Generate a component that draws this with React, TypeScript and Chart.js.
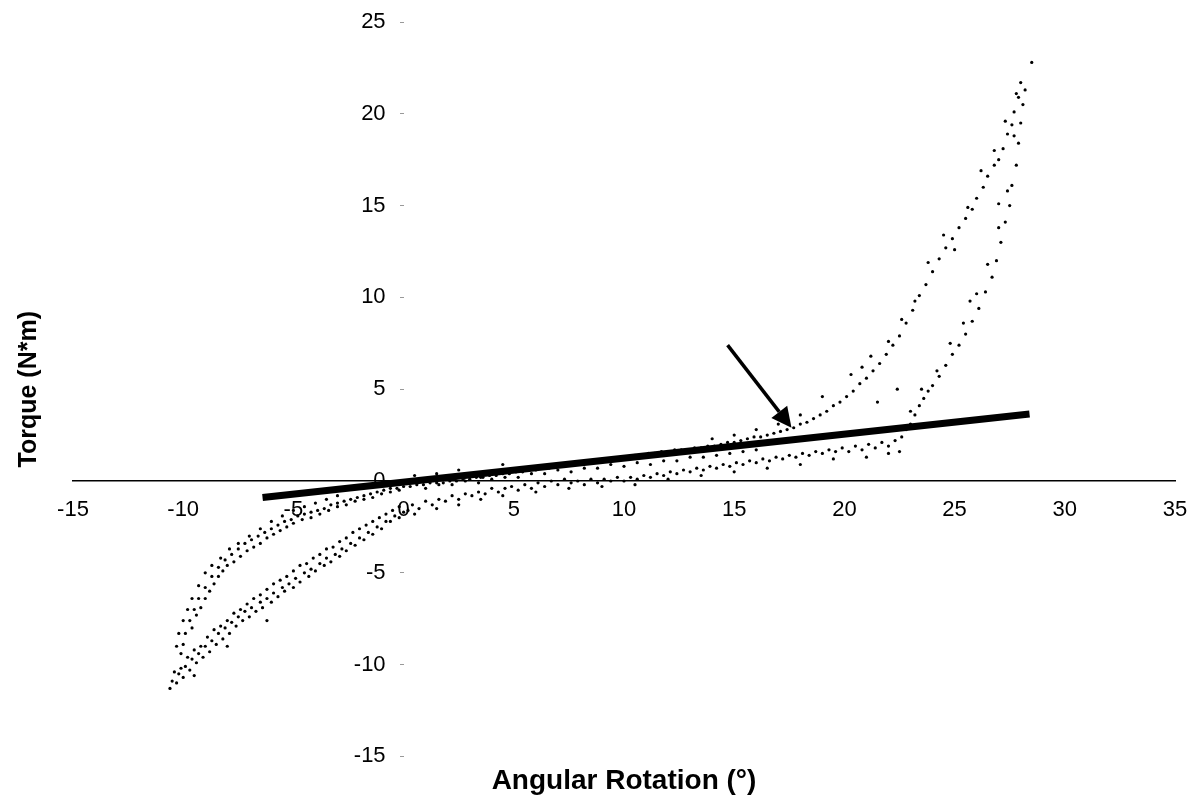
import React, { useEffect, useRef } from "react";
import { Chart, registerables } from "chart.js";

Chart.register(...registerables);

const FONT = '"Liberation Sans", Arial, Helvetica, sans-serif';

const xTickValues = [-15, -10, -5, 0, 5, 10, 15, 20, 25, 30, 35];
const yTickValues = [-15, -10, -5, 0, 5, 10, 15, 20, 25];

// Loading path (lower branch), [angle °, torque N*m]
const loadingPath: [number, number][] = [
  [-10.6, -11.3], [-10.5, -10.9], [-10.3, -11.0], [-10.2, -10.5], [-10.0, -10.7], [-9.9, -10.1],
  [-9.7, -10.3], [-9.6, -9.7], [-9.4, -9.9], [-9.3, -9.4], [-9.1, -9.6], [-9.0, -9.0],
  [-8.8, -9.3], [-8.7, -8.7], [-8.5, -8.9], [-8.4, -8.3], [-8.2, -8.6], [-8.1, -8.0],
  [-7.9, -8.3], [-7.8, -7.7], [-7.6, -7.9], [-7.5, -7.4], [-7.3, -7.6], [-7.2, -7.1],
  [-7.0, -7.4], [-6.9, -6.9], [-6.7, -7.1], [-6.5, -6.6], [-6.4, -6.9], [-6.2, -6.4],
  [-6.0, -6.6], [-5.9, -6.1], [-5.7, -6.3], [-5.5, -5.8], [-5.4, -6.0], [-5.2, -5.6],
  [-5.0, -5.8], [-4.9, -5.3], [-4.7, -5.5], [-4.5, -5.0], [-4.3, -5.2], [-4.2, -4.8],
  [-4.0, -4.9], [-3.8, -4.5], [-3.6, -4.6], [-3.5, -4.2], [-3.3, -4.4], [-3.1, -4.0],
  [-2.9, -4.1], [-2.8, -3.7], [-2.6, -3.8], [-2.4, -3.4], [-2.2, -3.5], [-2.0, -3.1],
  [-1.8, -3.2], [-1.6, -2.8], [-1.4, -2.9], [-1.2, -2.5], [-1.0, -2.6], [-0.8, -2.2],
  [-0.6, -2.2], [-0.4, -1.9], [-0.2, -2.0], [0.0, -1.7], [0.2, -1.6], [0.4, -1.3],
  [0.7, -1.5], [1.0, -1.1], [1.3, -1.3], [1.6, -1.0], [1.9, -1.1], [2.2, -0.8],
  [2.5, -1.0], [2.8, -0.7], [3.1, -0.8], [3.4, -0.6], [3.7, -0.7], [4.0, -0.4],
  [4.3, -0.6], [4.6, -0.4], [4.9, -0.3], [5.2, -0.5], [5.5, -0.2], [5.8, -0.4],
  [6.1, -0.1], [6.4, -0.3], [6.7, 0.0], [7.0, -0.2], [7.3, 0.1], [7.6, -0.1],
  [7.9, 0.0], [8.2, -0.2], [8.5, 0.1], [8.8, -0.1], [9.1, 0.1], [9.4, 0.0],
  [9.7, 0.2], [10.0, 0.0], [10.3, 0.2], [10.6, 0.1], [10.9, 0.3], [11.2, 0.2],
  [11.5, 0.4], [11.8, 0.3], [12.1, 0.5], [12.4, 0.4], [12.7, 0.6], [13.0, 0.5],
  [13.3, 0.7], [13.6, 0.6], [13.9, 0.8], [14.2, 0.7], [14.5, 0.9], [14.8, 0.8],
  [15.1, 1.0], [15.4, 0.9], [15.7, 1.1], [16.0, 1.0], [16.3, 1.2], [16.6, 1.1],
  [16.9, 1.3], [17.2, 1.2], [17.5, 1.4], [17.8, 1.3], [18.1, 1.5], [18.4, 1.4],
  [18.7, 1.6], [19.0, 1.5], [19.3, 1.7], [19.6, 1.6], [19.9, 1.8], [20.2, 1.6],
  [20.5, 1.9], [20.8, 1.7], [21.1, 2.0], [21.4, 1.8], [21.7, 2.1], [22.0, 1.9],
  [22.3, 2.2], [22.6, 2.4], [22.8, 2.8], [23.0, 3.1], [23.2, 3.6], [23.4, 4.1],
  [23.6, 4.5], [23.8, 4.9], [24.0, 5.2], [24.3, 5.7], [24.6, 6.3], [24.9, 6.9],
  [25.2, 7.4], [25.5, 8.0], [25.8, 8.7], [26.1, 9.4], [26.4, 10.3], [26.7, 11.1],
  [26.9, 12.0], [27.1, 13.0], [27.3, 14.1], [27.5, 15.0], [27.6, 16.1], [27.8, 17.2],
  [27.9, 18.4], [28.0, 19.5], [28.1, 20.5], [28.2, 21.3],
];

// Unloading path (upper branch)
const unloadingPath: [number, number][] = [
  [28.0, 21.7], [27.9, 20.9], [27.7, 20.1], [27.6, 19.4], [27.4, 18.9], [27.2, 18.1],
  [27.0, 17.5], [26.8, 17.2], [26.5, 16.6], [26.3, 16.0], [26.0, 15.4], [25.8, 14.8],
  [25.5, 14.3], [25.2, 13.8], [24.9, 13.2], [24.6, 12.7], [24.3, 12.1], [24.0, 11.4],
  [23.7, 10.7], [23.4, 10.1], [23.1, 9.3], [22.8, 8.6], [22.5, 7.9], [22.2, 7.4],
  [21.9, 6.9], [21.6, 6.4], [21.3, 6.0], [21.0, 5.6], [20.7, 5.3], [20.4, 4.9],
  [20.1, 4.6], [19.8, 4.3], [19.5, 4.1], [19.2, 3.8], [18.9, 3.6], [18.6, 3.4],
  [18.3, 3.2], [18.0, 3.1], [17.7, 2.9], [17.4, 2.8], [17.1, 2.7], [16.8, 2.6],
  [16.5, 2.5], [16.2, 2.4], [15.9, 2.4], [15.6, 2.3], [15.3, 2.2], [15.0, 2.1],
  [14.7, 2.1], [14.4, 2.0], [14.1, 1.9], [13.8, 1.9], [13.5, 1.8], [13.2, 1.8],
  [12.9, 1.7], [12.6, 1.7], [12.3, 1.7], [12.0, 1.6], [11.7, 1.6], [11.4, 1.5],
  [11.1, 1.5], [10.8, 1.4], [10.5, 1.4], [10.2, 1.3], [9.9, 1.3], [9.6, 1.2],
  [9.3, 1.2], [9.0, 1.1], [8.7, 1.1], [8.4, 1.0], [8.1, 1.0], [7.8, 0.9],
  [7.5, 0.9], [7.2, 0.8], [6.9, 0.8], [6.6, 0.7], [6.3, 0.7], [6.0, 0.6],
  [5.7, 0.6], [5.4, 0.5], [5.1, 0.5], [4.8, 0.4], [4.5, 0.4], [4.2, 0.3],
  [3.9, 0.3], [3.6, 0.2], [3.3, 0.2], [3.0, 0.1], [2.7, 0.1], [2.4, 0.0],
  [2.1, 0.0], [1.8, -0.1], [1.5, -0.1], [1.2, -0.1], [0.9, -0.2], [0.6, -0.2],
  [0.3, -0.3], [0.0, -0.3], [-0.3, -0.4], [-0.6, -0.4], [-0.9, -0.5], [-1.2, -0.6],
  [-1.5, -0.7], [-1.8, -0.8], [-2.1, -0.9], [-2.4, -1.0], [-2.7, -1.1], [-3.0, -1.2],
  [-3.3, -1.3], [-3.6, -1.5], [-3.9, -1.6], [-4.2, -1.7], [-4.5, -1.8], [-4.8, -1.9],
  [-5.1, -2.1], [-5.4, -2.2], [-5.7, -2.4], [-6.0, -2.6], [-6.3, -2.8], [-6.6, -3.0],
  [-6.9, -3.2], [-7.2, -3.4], [-7.5, -3.7], [-7.8, -4.0], [-8.1, -4.3], [-8.4, -4.7],
  [-8.7, -5.2], [-9.0, -5.8], [-9.3, -6.4], [-9.5, -7.0], [-9.7, -7.6], [-9.9, -8.3],
  [-10.0, -8.9], [-10.1, -9.4],
];

// Second cycle / scattered readings
const secondCycle: [number, number][] = [
  [-9.6, -8.0], [-9.4, -7.3], [-9.2, -6.9], [-9.0, -6.4], [-8.8, -6.0], [-8.6, -5.6],
  [-8.4, -5.2], [-8.2, -4.9], [-8.0, -4.6], [-7.7, -4.4], [-7.4, -4.1], [-7.1, -3.8],
  [-6.8, -3.6], [-6.5, -3.4], [-6.2, -3.1], [-5.9, -2.9], [-5.6, -2.7], [-5.3, -2.5],
  [-5.0, -2.3], [-4.6, -2.1], [-4.2, -2.0], [-3.8, -1.8], [-3.4, -1.6], [-3.0, -1.4],
  [-2.6, -1.3], [-2.2, -1.1], [-1.8, -1.0], [-1.4, -0.9], [-1.0, -0.7], [-0.6, -0.6],
  [-0.2, -0.5], [1.0, -0.4], [1.6, -0.2], [2.2, -0.2], [2.8, 0.0], [3.4, -0.1],
  [4.0, 0.1], [4.6, 0.2], [5.2, 0.2], [5.8, 0.4], [6.4, 0.4], [7.0, 0.6],
  [7.6, 0.5], [8.2, 0.7], [8.8, 0.7], [9.4, 0.9], [10.0, 0.8], [10.6, 1.0],
  [11.2, 0.9], [11.8, 1.1], [12.4, 1.1], [13.0, 1.3], [13.6, 1.3], [14.2, 1.4],
  [14.8, 1.5], [15.4, 1.6], [16.0, 1.7], [21.5, 4.3], [22.4, 5.0], [25.7, 9.8],
  [27.0, 15.1], [28.5, 22.8],
];

// Extra readings that thicken the measured bands
const extraReadings: [number, number][] = [
  [-10.4, -10.4], [-10.1, -10.2], [-9.8, -9.6], [-9.5, -9.2], [-9.2, -9.0], [-8.9, -8.5],
  [-8.6, -8.1], [-8.3, -7.9], [-8.0, -7.6], [-7.7, -7.2], [-7.4, -7.0], [-7.1, -6.7],
  [-6.8, -6.4], [-6.5, -6.2], [-6.2, -5.9], [-5.9, -5.6], [-5.6, -5.4], [-5.3, -5.2],
  [-5.0, -4.9], [-4.7, -4.6], [-4.4, -4.5], [-4.1, -4.2], [-3.8, -4.0], [-3.5, -3.7],
  [-3.2, -3.6], [-2.9, -3.3], [-2.6, -3.1], [-2.3, -2.8], [-2.0, -2.6], [-1.7, -2.4],
  [-1.4, -2.2], [-1.1, -2.0], [-0.8, -1.8], [-0.5, -1.6], [-0.2, -1.4],
  [-8.0, -9.0], [-6.2, -7.6], [-9.5, -10.6],
  [-10.3, -9.0], [-10.2, -8.3], [-10.0, -7.6], [-9.8, -7.0], [-9.6, -6.4], [-9.3, -5.7],
  [-9.0, -5.0], [-8.7, -4.6], [-8.3, -4.2], [-7.9, -3.7], [-7.5, -3.4], [-7.0, -3.0],
  [-6.5, -2.6], [-6.0, -2.2], [-5.5, -1.9], [-5.0, -1.6], [-4.5, -1.4], [-4.0, -1.2],
  [-3.5, -1.0], [-3.0, -0.8],
  [0.5, 0.3], [1.5, 0.4], [2.5, 0.6], [3.5, 0.2], [4.5, 0.9],
  [0.5, -1.8], [1.5, -1.5], [2.5, -1.3], [3.5, -1.0], [4.5, -0.8], [6.0, -0.6],
  [7.5, -0.4], [9.0, -0.3], [10.5, -0.2], [12.0, 0.1], [13.5, 0.3], [15.0, 0.5],
  [16.5, 0.7], [18.0, 0.9], [19.5, 1.2], [21.0, 1.3], [22.0, 1.5], [22.5, 1.6],
  [20.3, 5.8], [20.8, 6.2], [21.2, 6.8], [22.0, 7.6], [22.6, 8.8], [23.2, 9.8],
  [23.8, 11.9], [24.5, 13.4], [25.0, 12.6], [25.6, 14.9], [26.2, 16.9], [26.8, 18.0],
  [27.3, 19.6], [27.8, 21.1], [19.0, 4.6], [18.0, 3.6], [17.0, 3.1], [16.0, 2.8],
  [15.0, 2.5], [14.0, 2.3],
  [23.0, 3.8], [23.5, 5.0], [24.2, 6.0], [24.8, 7.5], [25.4, 8.6], [26.0, 10.2],
  [26.5, 11.8], [27.0, 13.8], [27.4, 15.8], [27.7, 18.8],
];

// Linear fit (thick line) end points
const fitLine: [number, number][] = [
  [-6.4, -0.9],
  [28.4, 3.65],
];

// Arrow annotation: tail and head in data units
const arrowTail: [number, number] = [14.7, 7.4];
const arrowHead: [number, number] = [17.6, 2.9];

const toPoints = (arr: [number, number][]) => arr.map(([x, y]) => ({ x, y }));

const arrowPlugin = {
  id: "arrowPlugin",
  afterDatasetsDraw(chart: any) {
    const { ctx, scales } = chart;
    const xs = scales.x;
    const ys = scales.y;
    const x1 = xs.getPixelForValue(arrowTail[0]);
    const y1 = ys.getPixelForValue(arrowTail[1]);
    const x2 = xs.getPixelForValue(arrowHead[0]);
    const y2 = ys.getPixelForValue(arrowHead[1]);
    const ang = Math.atan2(y2 - y1, x2 - x1);
    const headLen = 20;
    const headHalf = 10;
    const bx = x2 - headLen * Math.cos(ang);
    const by = y2 - headLen * Math.sin(ang);
    ctx.save();
    ctx.strokeStyle = "#000";
    ctx.fillStyle = "#000";
    ctx.lineWidth = 3.5;
    ctx.beginPath();
    ctx.moveTo(x1, y1);
    ctx.lineTo(bx, by);
    ctx.stroke();
    ctx.beginPath();
    ctx.moveTo(x2, y2);
    ctx.lineTo(bx + headHalf * Math.sin(ang), by - headHalf * Math.cos(ang));
    ctx.lineTo(bx - headHalf * Math.sin(ang), by + headHalf * Math.cos(ang));
    ctx.closePath();
    ctx.fill();
    ctx.restore();
  },
};

// Y tick labels drawn left of the y-axis (which sits at x = 0) with a gap
const yLabelPlugin = {
  id: "yLabelPlugin",
  afterDraw(chart: any) {
    const { ctx, scales } = chart;
    const axisX = scales.x.getPixelForValue(0);
    ctx.save();
    ctx.fillStyle = "#000";
    ctx.font = `22px ${FONT}`;
    ctx.textAlign = "right";
    ctx.textBaseline = "middle";
    yTickValues.forEach((v) => {
      ctx.fillText(String(v), axisX - 18, scales.y.getPixelForValue(v));
    });
    ctx.restore();
  },
};

export default function App() {
  const ref = useRef<HTMLCanvasElement>(null);

  useEffect(() => {
    if (!ref.current) return;
    const dotStyle = {
      showLine: false,
      pointRadius: 1.6,
      pointHoverRadius: 1.6,
      pointBackgroundColor: "#000",
      pointBorderWidth: 0,
      borderColor: "#000",
      order: 2,
    };
    const chart = new Chart(ref.current, {
      type: "scatter",
      data: {
        datasets: [
          {
            label: "Linear",
            data: toPoints(fitLine),
            showLine: true,
            borderColor: "#000",
            borderWidth: 7,
            pointRadius: 0,
            order: 0,
          } as any,
          { label: "Loading", data: toPoints(loadingPath), ...dotStyle } as any,
          { label: "Unloading", data: toPoints(unloadingPath), ...dotStyle } as any,
          { label: "Cycle 2", data: toPoints(secondCycle), ...dotStyle } as any,
          { label: "Extra", data: toPoints(extraReadings), ...dotStyle } as any,
        ],
      },
      options: {
        animation: false,
        responsive: true,
        maintainAspectRatio: false,
        layout: { autoPadding: false, padding: { top: 22, right: 18, left: 0, bottom: 0 } },
        plugins: {
          legend: { display: false },
          tooltip: { enabled: false },
          title: {
            display: true,
            text: "Torque (N*m)",
            position: "left",
            fullSize: false,
            color: "#000",
            font: { family: FONT, size: 25, weight: "bold" },
            padding: { top: 14, bottom: 29 },
          },
          subtitle: {
            display: true,
            text: "Angular Rotation (°)",
            position: "bottom",
            fullSize: false,
            color: "#000",
            font: { family: FONT, size: 28, weight: "bold" },
            padding: { top: 8, bottom: 0 },
          },
        },
        scales: {
          x: {
            type: "linear",
            min: -15,
            max: 35,
            position: { y: 0 } as any,
            afterBuildTicks: (s: any) => {
              s.ticks = xTickValues.map((v) => ({ value: v }));
            },
            ticks: {
              color: "#000",
              font: { family: FONT, size: 22 },
              autoSkip: false,
              maxRotation: 0,
              padding: 0,
            },
            grid: { drawOnChartArea: false, drawTicks: true, tickLength: 16, tickColor: "rgba(0,0,0,0)" },
            border: { display: true, color: "#000", width: 1.5 },
          },
          y: {
            type: "linear",
            min: -15,
            max: 25,
            position: { x: 0 } as any,
            afterBuildTicks: (s: any) => {
              s.ticks = yTickValues.map((v) => ({ value: v }));
            },
            ticks: { display: false },
            grid: { drawOnChartArea: false, drawTicks: true, tickLength: 4, tickColor: "#999" },
            border: { display: false },
          },
        },
      },
      plugins: [arrowPlugin, yLabelPlugin],
    });
    return () => chart.destroy();
  }, []);

  return (
    <div style={{ position: "absolute", left: 0, top: 0, width: 1193, height: 798, background: "#fff" }}>
      <canvas ref={ref} />
    </div>
  );
}
